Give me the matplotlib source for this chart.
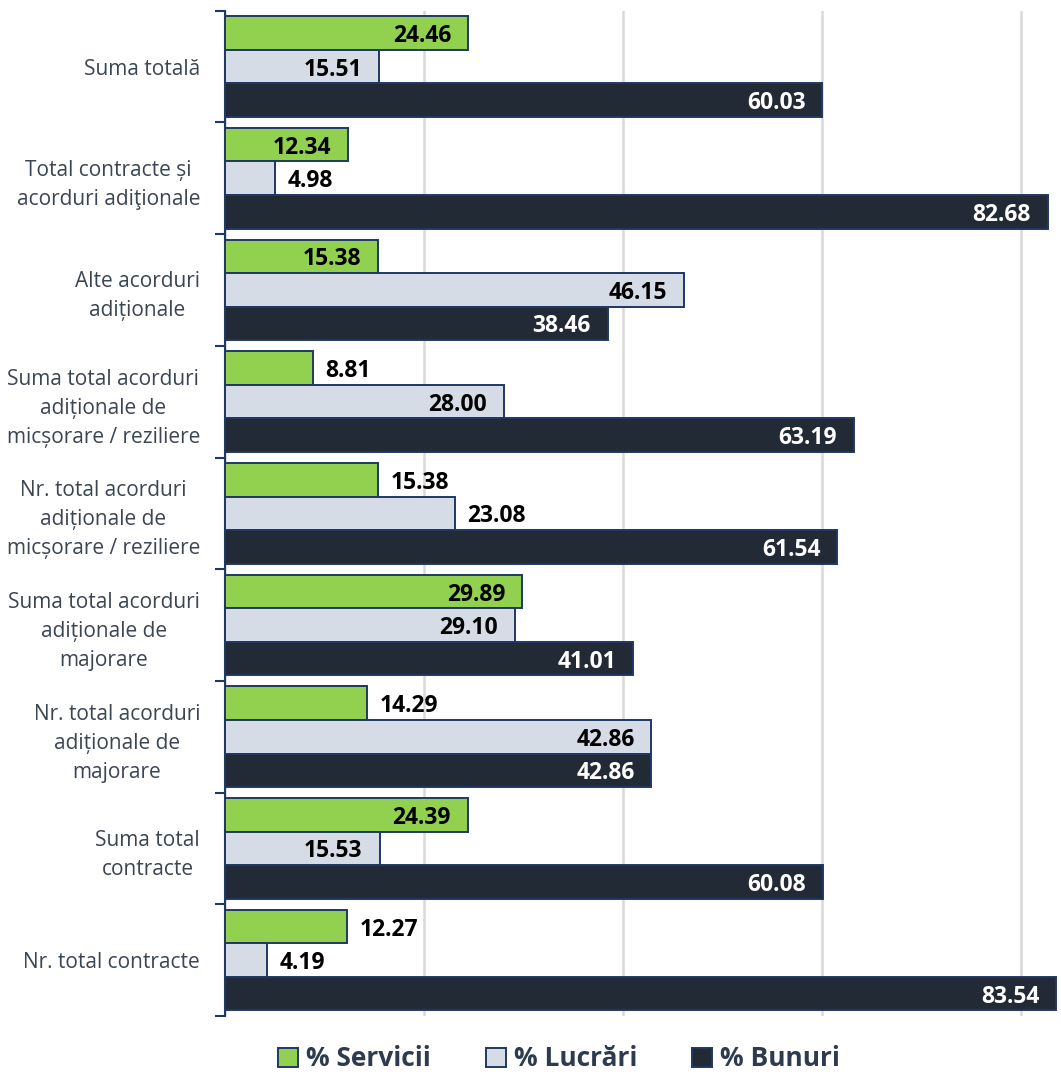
import matplotlib
matplotlib.use("Agg")
import matplotlib.pyplot as plt
from matplotlib.patches import Patch
import numpy as np

categories = [
    "Suma totală",
    "Total contracte și\nacorduri adiţionale",
    "Alte acorduri\nadiționale",
    "Suma total acorduri\nadiționale de\nmicșorare / reziliere",
    "Nr. total acorduri\nadiționale de\nmicșorare / reziliere",
    "Suma total acorduri\nadiționale de\nmajorare",
    "Nr. total acorduri\nadiționale de\nmajorare",
    "Suma total\ncontracte",
    "Nr. total contracte",
]
servicii = [24.46, 12.34, 15.38, 8.81, 15.38, 29.89, 14.29, 24.39, 12.27]
lucrari = [15.51, 4.98, 46.15, 28.00, 23.08, 29.10, 42.86, 15.53, 4.19]
bunuri = [60.03, 82.68, 38.46, 63.19, 61.54, 41.01, 42.86, 60.08, 83.54]
series_names = ["% Servicii", "% Lucrări", "% Bunuri"]

# label placement (style): True = inside end, False = outside end
inside_s = [True, True, True, False, False, True, False, True, False]
inside_l = [True, False, True, True, False, True, True, True, False]
inside_b = [True] * 9

colors = ["#92D050", "#D6DCE5", "#222A35"]
text_in = ["black", "black", "white"]
edge = "#1F3864"

plt.rcParams['font.family'] = ['Open Sans', 'DejaVu Sans']

W, H = 1061, 1077
fig = plt.figure(figsize=(W / 100, H / 100), dpi=100)
left = 225 / W
top = 1 - 10.7 / H
bottom = 1 - 1016 / H
ax = fig.add_axes([left, bottom, 1 - left, top - bottom])

n = len(categories)
y = np.arange(n)
h = 0.3
series = [servicii, lucrari, bunuri]
insides = [inside_s, inside_l, inside_b]
offsets = [-h, 0, h]

for vals, col, off, ins, tc in zip(series, colors, offsets, insides, text_in):
    ax.barh(y + off, vals, height=h, color=col, edgecolor=edge,
            linewidth=1.4, zorder=3)
    for yi, v, inside in zip(y + off, vals, ins):
        if inside:
            ax.text(v - 1.7, yi, f"{v:.2f}", ha="right", va="center_baseline",
                    fontsize=16.5, fontweight="bold", color=tc, zorder=4)
        else:
            ax.text(v + 1.3, yi, f"{v:.2f}", ha="left", va="center_baseline",
                    fontsize=16.5, fontweight="bold", color="black", zorder=4)

ax.set_xlim(0, (W - 225) / 9.95)
ax.set_ylim(n - 0.5, -0.5)
ax.set_xticks([0, 20, 40, 60, 80])
ax.set_xticklabels([])
ax.tick_params(axis="x", length=0)
ax.grid(axis="x", color="#D9D9D9", linewidth=1.8, zorder=0)
ax.set_axisbelow(True)

ax.set_yticks(y)
ax.set_yticklabels(categories, fontsize=15, color="#3B4654",
                   multialignment="center", linespacing=1.5)
ax.set_yticks(np.arange(-0.5, n, 1), minor=True)
ax.tick_params(axis="y", which="major", length=0, pad=18)
ax.tick_params(axis="y", which="minor", length=7, width=1.5, color=edge)

for s in ["top", "right", "bottom"]:
    ax.spines[s].set_visible(False)
ax.spines["left"].set_color(edge)
ax.spines["left"].set_linewidth(1.5)

handles = [Patch(facecolor=c, edgecolor=edge, linewidth=1.4) for c in colors]
leg = fig.legend(handles, series_names, loc="center", ncol=3,
                 bbox_to_anchor=(559 / W, 1 - 1059 / H), frameon=False,
                 prop={"size": 19, "weight": "bold"},
                 handlelength=0.75, handleheight=0.75, handletextpad=0.3,
                 columnspacing=2.1)
for t in leg.get_texts():
    t.set_color("#2E3B4E")

fig.savefig("out.png", dpi=100)
